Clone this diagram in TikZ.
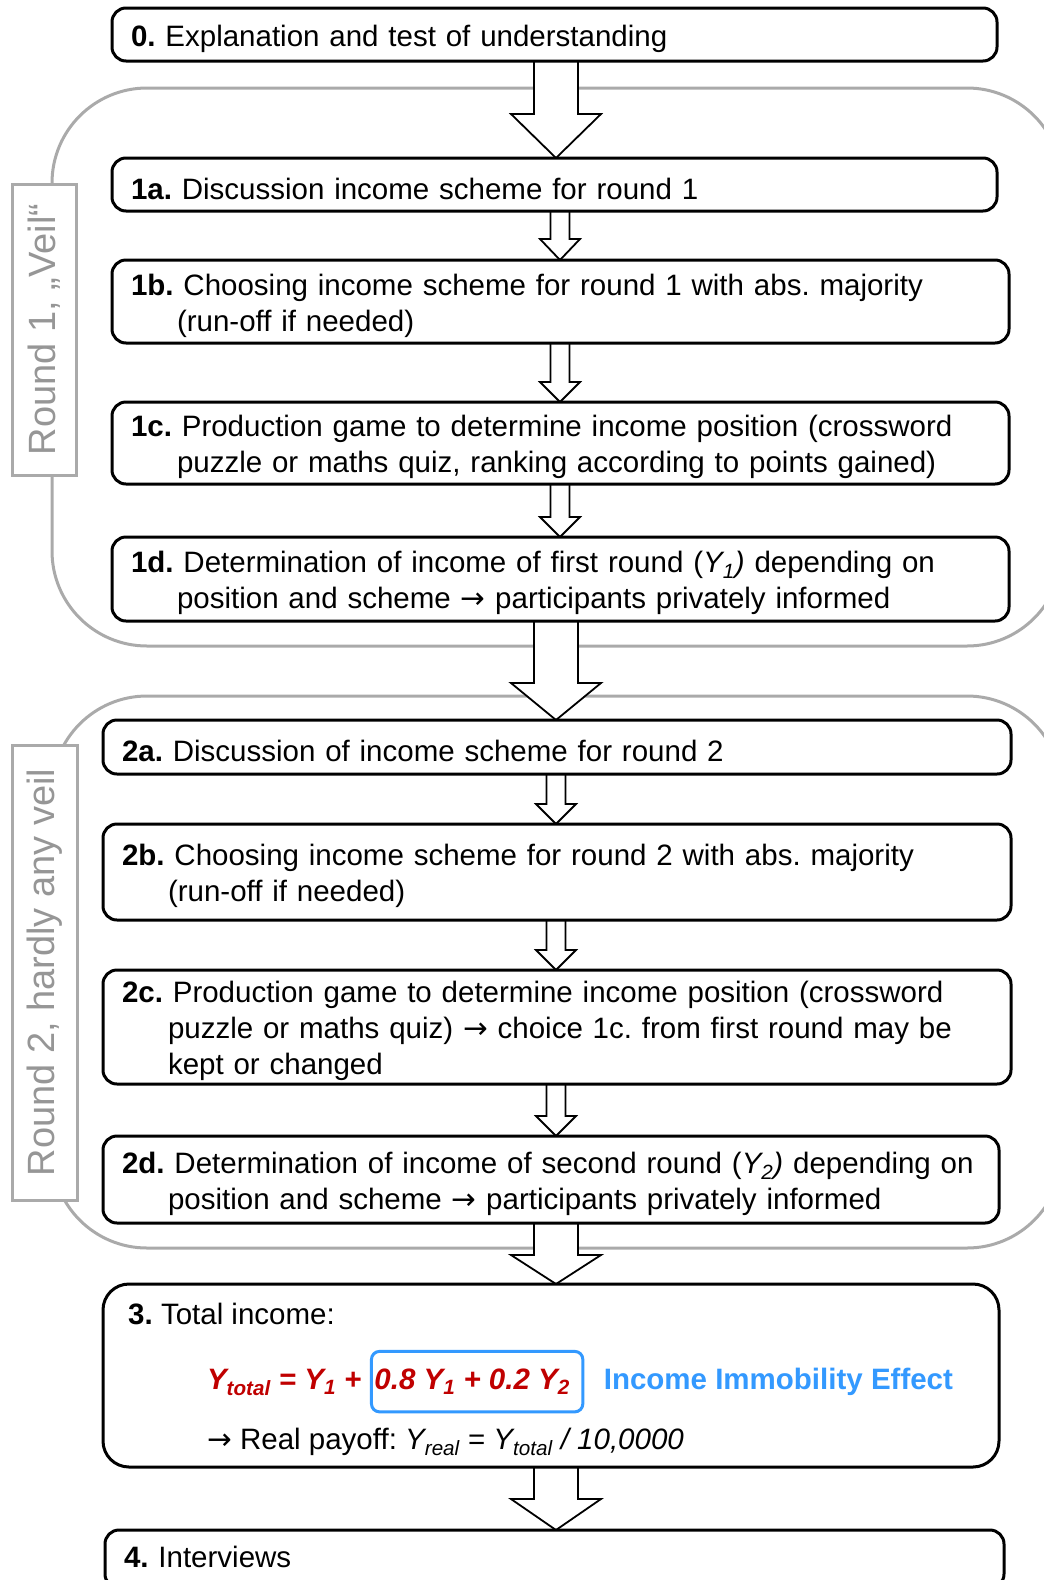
\documentclass[tikz,border=0pt]{standalone}
\usepackage{fontspec}
\setmainfont{Liberation Sans}
\newfontfamily\arrowfont{DejaVu Sans}
\usetikzlibrary{positioning,calc}

\definecolor{framegray}{RGB}{170,170,170}
\definecolor{labelgray}{RGB}{150,150,150}
\definecolor{formulared}{RGB}{192,0,0}
\definecolor{effectblue}{RGB}{51,153,255}

\pgfdeclarelayer{frames}
\pgfdeclarelayer{arrows}
\pgfsetlayers{frames,arrows,main}

\frenchspacing
% second line of a step, indented under the text
\newcommand{\stagebreak}{\\\hspace*{46pt}}
\newcommand{\ysub}[1]{\textsubscript{#1}}
\newcommand{\toarrow}{{\arrowfont →}}
% block arrow: from, to, axis, shaft half width, head half width, head length
\newcommand{\flowarrow}[6]{%
  \draw[flow_arrow] ($(#1.south -| #3)+(-#4,0)$) -- ($(#2.north -| #3)+(-#4,-#6)$)
    -- ($(#2.north -| #3)+(-#5,-#6)$) -- (#2.north -| #3)
    -- ($(#2.north -| #3)+(#5,-#6)$) -- ($(#2.north -| #3)+(#4,-#6)$)
    -- ($(#1.south -| #3)+(#4,0)$) -- cycle;}

\begin{document}
\begin{tikzpicture}[
    x=1pt, y=-1pt,
    font=\fontsize{29.5}{36}\selectfont,
    stage_node/.style={rectangle, rounded corners=14pt, draw=black, line width=3pt, fill=white, align=left, anchor=north west, inner xsep=19pt, inner ysep=2pt, outer sep=0pt, execute at begin node={\rule{0pt}{30pt}}},
    round_frame/.style={draw=framegray, line width=3pt, rounded corners=95pt},
    round_label/.style={rectangle, draw=framegray, line width=3pt, fill=white, text=labelgray, rotate=90, font=\fontsize{38}{40}\selectfont, inner sep=0pt},
    flow_arrow/.style={draw=black, line width=1.8pt, fill=white, line join=miter},
    formula_text/.style={font=\fontsize{29.5}{36}\selectfont\bfseries\itshape, text=formulared, inner sep=0pt, outer sep=0pt},
    shift_box/.style={draw=effectblue, line width=3pt, rounded corners=8pt, inner xsep=3pt, inner ysep=17pt},
    effect_text/.style={font=\fontsize{29.5}{36}\selectfont\bfseries, text=effectblue, inner sep=0pt, outer sep=0pt}
]
\useasboundingbox (0,0) rectangle (1044,1580);
\coordinate (axA) at (556,0);
\coordinate (axB) at (560,0);

% Steps
\node[stage_node, minimum width=885pt, text width=847pt, minimum height=53pt] (box0) at (112,8) {\textbf{0.} Explanation and test of understanding};

% Round 1
\node[stage_node, minimum width=885pt, text width=847pt, minimum height=53pt, below=97pt of box0.south west, anchor=north west] (box1a) {\textbf{1a.} Discussion income scheme for round 1};
\node[stage_node, minimum width=897pt, text width=859pt, minimum height=83pt, below=49pt of box1a.south west, anchor=north west] (box1b) {\textbf{1b.} Choosing income scheme for round 1 with abs. majority\stagebreak (run-off if needed)};
\node[stage_node, minimum width=897pt, text width=859pt, minimum height=82pt, below=59pt of box1b.south west, anchor=north west] (box1c) {\textbf{1c.} Production game to determine income position (crossword\stagebreak puzzle or maths quiz, ranking according to points gained)};
\node[stage_node, minimum width=897pt, text width=859pt, minimum height=84pt, below=53pt of box1c.south west, anchor=north west] (box1d) {\textbf{1d.} Determination of income of first round (\textit{Y\ysub{1})} depending on\stagebreak position and scheme \toarrow{} participants privately informed};

% Round 2
\node[stage_node, minimum width=908pt, text width=870pt, minimum height=54pt, below=99pt of box1d.south west, anchor=north west, xshift=-9pt] (box2a) {\textbf{2a.} Discussion of income scheme for round 2};
\node[stage_node, minimum width=908pt, text width=870pt, minimum height=96pt, below=50pt of box2a.south west, anchor=north west] (box2b) {\textbf{2b.} Choosing income scheme for round 2 with abs. majority\stagebreak (run-off if needed)};
\node[stage_node, minimum width=908pt, text width=870pt, minimum height=114pt, below=50pt of box2b.south west, anchor=north west] (box2c) {\textbf{2c.} Production game to determine income position (crossword\stagebreak puzzle or maths quiz) \toarrow{} choice 1c. from first round may be\stagebreak kept or changed};
\node[stage_node, minimum width=896pt, text width=858pt, minimum height=87pt, below=52pt of box2c.south west, anchor=north west] (box2d) {\textbf{2d.} Determination of income of second round (\textit{Y\ysub{2})} depending on\stagebreak position and scheme \toarrow{} participants privately informed};

% Total income
\node[stage_node, rounded corners=26pt, minimum width=896pt, text width=858pt, minimum height=183pt, below=61pt of box2d.south west, anchor=north west] (box3) {};
\node[anchor=base west, inner sep=0pt] (total) at ($(box3.north west)+(25,40)$) {\textbf{3.} Total income:};
\node[formula_text, anchor=base west] (ytot) at ($(box3.north west)+(104,105)$) {Y\ysub{total} = Y\ysub{1} +};
\node[formula_text, shift_box, base right=10pt of ytot] (shift) {0.8 Y\ysub{1} + 0.2 Y\ysub{2}\hspace*{10pt}};
\node[effect_text, base right=21pt of shift] (effect) {Income Immobility Effect};
\node[anchor=base west, inner sep=0pt] (payoff) at ($(box3.north west)+(104,165)$) {\toarrow{} Real payoff: \textit{Y\ysub{real}} = \textit{Y\ysub{total} / 10,0000}};

\node[stage_node, minimum width=899pt, text width=861pt, minimum height=58pt, below=63pt of box3.south west, anchor=north west, xshift=2pt] (box4) {\textbf{4.} Interviews\rule[-14pt]{0pt}{14pt}};

% Round labels
\node[round_label, minimum width=291pt, minimum height=64pt] (round1) at (44,329.5) {Round 1, „Veil“};
\node[round_label, minimum width=455pt, minimum height=65pt] (round2) at (44.5,972.5) {Round 2, hardly any veil};

% Round frames
\begin{pgfonlayer}{frames}
\draw[round_frame] (52,88) rectangle (1062,646);
\draw[round_frame] (52,696) rectangle (1062,1248);
\end{pgfonlayer}

% Arrows
\begin{pgfonlayer}{arrows}
\flowarrow{box0}{box1a}{axA}{22}{45}{44}
\flowarrow{box1a}{box1b}{axB}{9.5}{20}{21}
\flowarrow{box1b}{box1c}{axB}{9.5}{20}{20}
\flowarrow{box1c}{box1d}{axB}{9.5}{20}{20}
\flowarrow{box1d}{box2a}{axA}{22}{45}{37}
\flowarrow{box2a}{box2b}{axA}{9.5}{20}{20}
\flowarrow{box2b}{box2c}{axA}{9.5}{20}{20}
\flowarrow{box2c}{box2d}{axA}{9.5}{20}{20}
\flowarrow{box2d}{box3}{axA}{22}{45}{29}
\flowarrow{box3}{box4}{axA}{22}{45}{31}
\end{pgfonlayer}

\end{tikzpicture}
\end{document}
